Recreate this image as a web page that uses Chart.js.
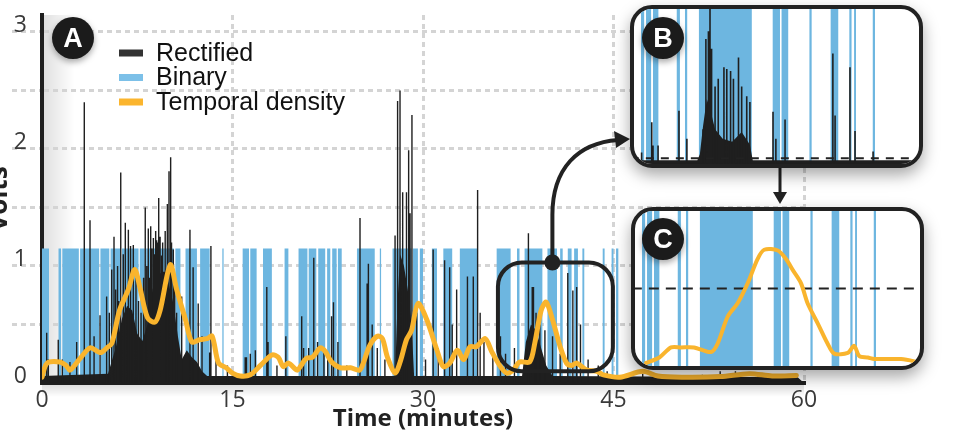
<!DOCTYPE html>
<html>
<head>
<meta charset="utf-8">
<script src="https://cdn.jsdelivr.net/npm/chart.js@4.4.1/dist/chart.umd.min.js"></script>
<style>
  body { margin: 0; background: #fff; }
  #wrap { position: relative; width: 956px; height: 434px; overflow: hidden; }
  #main { position: absolute; left: 0; top: 0; }
  .inset { position: absolute; border: 4px solid #222; border-radius: 22px; overflow: hidden;
           background: #fff; box-shadow: 0 7px 16px rgba(0,0,0,0.35); }
  .inset canvas { display: block; }
  .badge { position: absolute; width: 42px; height: 42px; border-radius: 50%; background: #1b1b1b;
           color: #fff; font: bold 27px "Liberation Sans", Arial, sans-serif; text-align: center;
           line-height: 43px; box-shadow: 0 3px 6px rgba(0,0,0,0.35); }
</style>
</head>
<body>
<div id="wrap">
  <canvas id="main" width="956" height="434"></canvas>
  <div class="inset" style="left:630px;top:5px;width:285px;height:155px"><canvas id="insetB" width="285" height="155"></canvas></div>
  <div class="inset" style="left:631px;top:207px;width:285px;height:155px"><canvas id="insetC" width="285" height="155"></canvas></div>
  <div class="badge" style="left:52px;top:17px">A</div>
  <div class="badge" style="left:642px;top:17px">B</div>
  <div class="badge" style="left:642px;top:218px">C</div>
</div>
<script>
// ---- main panel (A): time in minutes, volts ----
var xTicks = [0, 15, 30, 45, 60];
var yTicks = [0, 1, 2, 3];

var densityT = [0, 0.4, 1.4, 1.9, 2.2, 3.0, 3.8, 4.6, 5.1, 5.5,
  6.1, 6.8, 7.3, 7.7, 8.3, 8.9, 9.3, 10.1, 10.6, 11.3,
  11.8, 12.4, 13.0, 13.4, 13.9, 14.5, 15.0, 15.6, 16.4, 17.2,
  18.1, 18.6, 19.0, 19.4, 20.1, 20.4, 20.8, 21.3, 21.9, 22.3,
  22.8, 23.5, 24.3, 25.0, 25.3, 25.8, 26.4, 26.8, 27.2, 27.8,
  28.2, 28.7, 29.1, 29.6, 30.3, 31.1, 31.6, 32.1, 32.7, 33.2,
  33.7, 34.2, 34.9, 35.4, 36.1, 36.6, 37.1, 37.6, 38.4, 38.8,
  39.3, 39.7, 40.2, 40.8, 41.3, 41.7, 42.1, 42.9, 43.7, 44.2,
  45.5, 47.3, 48.5, 50.5, 53.4, 55.7, 57.5, 59.4];
var densityV = [0.05, 0.17, 0.18, 0.15, 0.11, 0.21, 0.30, 0.26, 0.30, 0.34,
  0.62, 0.80, 0.97, 0.82, 0.56, 0.52, 0.62, 1.01, 0.80, 0.54,
  0.35, 0.37, 0.38, 0.40, 0.17, 0.13, 0.085, 0.06, 0.07, 0.15,
  0.24, 0.22, 0.14, 0.17, 0.11, 0.15, 0.21, 0.22, 0.30, 0.27,
  0.18, 0.13, 0.13, 0.11, 0.17, 0.32, 0.40, 0.38, 0.22, 0.085,
  0.18, 0.37, 0.45, 0.68, 0.54, 0.28, 0.14, 0.17, 0.28, 0.20,
  0.31, 0.31, 0.38, 0.27, 0.14, 0.085, 0.11, 0.18, 0.18, 0.34,
  0.62, 0.69, 0.54, 0.31, 0.17, 0.15, 0.17, 0.11, 0.10, 0.07,
  0.05, 0.10, 0.06, 0.05, 0.055, 0.08, 0.06, 0.065];

// rectified spikes (time, peak volts)
var spikeT = [0.37, 0.5, 1.28, 1.6, 2.2, 2.73, 3.33, 3.78, 4.1, 4.57,
  5.09, 5.3, 5.49, 5.67, 5.8, 5.95, 6.05, 6.2, 6.4, 6.56,
  6.8, 6.93, 7.0, 7.19, 7.4, 7.6, 7.8, 8.0, 8.13, 8.25,
  8.37, 8.45, 8.56, 8.65, 8.77, 8.85, 8.95, 9.03, 9.1, 9.19,
  9.3, 9.42, 9.5, 9.6, 9.7, 9.87, 10.0, 10.13, 10.2, 10.34,
  10.45, 10.6, 11.0, 11.65, 11.9, 12.3, 12.6, 13.2, 13.3, 13.7,
  14.6, 16.0, 16.1, 16.4, 16.8, 17.7, 17.8, 18.5, 19.2, 20.45,
  20.6, 21.0, 21.4, 21.7, 22.2, 22.5, 22.8, 22.95, 23.3, 24.0,
  25.04, 25.6, 25.7, 26.0, 26.4, 27.0, 27.8, 28.0, 28.19, 28.4,
  28.7, 28.87, 28.98, 29.13, 29.5, 30.2, 30.8, 31.2, 31.7, 32.1,
  32.3, 32.65, 33.5, 33.96, 34.3, 34.5, 34.8, 35.5, 36.1, 36.5,
  37.2, 38.3, 38.6, 38.7, 38.9, 39.2, 39.6, 40.2, 40.8, 41.4,
  41.8, 42.1, 42.4, 43.0, 43.8, 44.5, 47.3, 50.0, 52.0, 53.4,
  54.6, 57.0];
var spikeV = [0.43, 0.2, 0.37, 0.2, 0.18, 0.35, 2.40, 1.39, 0.4, 0.58,
  0.74, 0.6, 0.97, 1.25, 0.8, 1.0, 0.7, 1.80, 1.1, 1.37,
  1.31, 1.17, 0.85, 1.18, 0.9, 0.7, 0.6, 0.9, 1.50, 1.0,
  1.32, 0.9, 1.34, 1.15, 1.24, 1.1, 1.3, 1.22, 1.2, 1.58,
  1.25, 1.09, 1.2, 0.95, 1.3, 1.53, 1.81, 1.93, 1.2, 1.14,
  0.9, 0.6, 0.74, 1.31, 0.99, 0.68, 0.4, 0.26, 1.17, 0.2,
  0.15, 0.22, 0.22, 0.25, 0.28, 0.82, 0.35, 0.15, 0.40, 0.57,
  0.3, 0.3, 1.07, 0.35, 0.28, 0.2, 0.57, 0.69, 0.35, 0.15,
  1.41, 0.85, 1.02, 0.5, 0.3, 0.2, 1.26, 2.41, 2.50, 1.63,
  1.63, 1.99, 1.45, 2.29, 0.6, 0.2, 1.14, 0.3, 1.05, 0.99,
  0.5, 0.8, 0.91, 0.91, 1.65, 0.6, 0.35, 0.25, 0.4, 0.25,
  0.3, 1.28, 0.82, 0.82, 0.6, 0.5, 0.45, 0.4, 0.25, 0.94,
  0.79, 0.82, 0.5, 0.2, 0.15, 0.1, 0.08, 0.06, 0.07, 0.1,
  0.1, 0.06];

// dense part of the rectified signal (envelope of the dark mass)
var massT = [0, 5.2, 5.8, 6.3, 6.7, 7.1, 7.5, 7.9, 8.3, 8.7,
  9.1, 9.5, 9.9, 10.3, 10.7, 11.0, 11.4, 11.8, 12.2, 12.6,
  13.0, 27.8, 28.0, 28.2, 28.5, 28.8, 29.1, 29.3, 37.8, 38.1,
  38.5, 38.9, 39.3, 39.7, 40.2, 59.5, 60];
var massV = [0.06, 0.08, 0.3, 0.55, 0.66, 0.62, 0.42, 0.36, 0.5, 0.8,
  0.92, 0.95, 0.88, 0.7, 0.4, 0.2, 0.28, 0.22, 0.18, 0.1,
  0.06, 0.06, 0.7, 1.1, 1.0, 0.8, 0.5, 0.06, 0.06, 0.35,
  0.5, 0.45, 0.3, 0.15, 0.06, 0.05, 0];

// binary "on" intervals (minutes)
var binaryStart = [0.0, 1.3, 1.6, 3.0, 4.6, 5.4, 6.3, 7.7, 8.2, 8.8,
  10.5, 11.3, 12.45, 14.2, 15.8, 16.4, 17.4, 19.1, 20.2, 21.0,
  21.75, 22.45, 22.85, 23.3, 24.8, 26.6, 27.6, 29.2, 29.75, 30.7,
  31.6, 32.9, 35.8, 37.4, 38.0, 39.8, 40.8, 41.4, 41.9, 42.55,
  44.15, 44.85, 45.2];
var binaryEnd = [0.55, 1.5, 2.9, 4.5, 5.3, 6.2, 7.6, 8.1, 8.7, 10.4,
  10.9, 12.2, 13.2, 14.3, 16.3, 16.9, 18.1, 19.4, 20.9, 21.6,
  22.3, 22.7, 23.2, 23.6, 26.2, 26.7, 29.1, 29.6, 30.0, 31.1,
  32.3, 34.3, 36.9, 37.6, 39.4, 40.55, 41.0, 41.7, 42.2, 42.7,
  44.3, 45.0, 45.4];
var binaryLevel = 1.15;

// highlighted window shown in the insets
var windowT = [35.9, 44.95];
var windowV = [0.1, 1.03];

// ---- insets B and C (zoom on the window) ----
var insetBinStart = [36.22, 36.38, 36.6, 37.35, 37.61, 38.05, 40.38, 40.66, 41.54, 42.21, 42.8, 42.95, 43.54];
var insetBinEnd   = [36.32, 36.54, 36.77, 37.45, 37.68, 39.72, 40.61, 40.87, 41.61, 42.45, 42.87, 43.01, 43.61];

var insetSpikeT = [36.24, 36.56, 36.6, 36.76, 37.42, 37.67, 38.18, 38.27, 38.35, 38.4,
  38.45, 38.56, 38.66, 38.84, 38.93, 39.05, 39.14, 39.3, 39.4, 39.56,
  39.66, 40.39, 40.48, 40.77, 42.28, 42.35, 42.82, 42.98, 43.55];
var insetSpikeV = [0.12, 0.43, 0.19, 0.19, 0.55, 0.26, 0.36, 1.29, 1.37, 1.6,
  1.19, 0.8, 0.88, 1.0, 0.98, 0.96, 0.88, 1.1, 0.8, 0.7,
  0.64, 0.54, 0.26, 0.46, 1.14, 0.5, 1.0, 0.34, 0.13];
var insetMassT = [36.0, 38.0, 38.08, 38.18, 38.3, 38.4, 38.56, 38.8, 39.1, 39.4, 39.66, 39.75, 45.0];
var insetMassV = [0.04, 0.04, 0.1, 0.39, 0.67, 0.57, 0.36, 0.26, 0.23, 0.33, 0.2, 0.04, 0.04];
var insetBThreshold = 0.06;

var insetDensT = [36.35, 36.77, 37.14, 37.45, 37.86, 38.4, 38.61, 38.93, 39.24, 39.56,
  39.87, 40.08, 40.51, 40.77, 40.98, 41.24, 41.45, 41.77, 42.08, 42.29,
  42.72, 42.92, 43.08, 43.35, 43.56, 44.4, 44.82, 44.93];
var insetDensV = [0.02, 0.055, 0.12, 0.12, 0.12, 0.09, 0.145, 0.32, 0.405, 0.535,
  0.69, 0.75, 0.745, 0.69, 0.62, 0.535, 0.405, 0.275, 0.145, 0.08,
  0.085, 0.13, 0.065, 0.055, 0.045, 0.045, 0.03, 0.02];
var insetCThreshold = 0.5;

var legendLabels = ['Rectified', 'Binary', 'Temporal density'];

var DARK = '#1f1f1f', BLUE = '#6db6e0', ORANGE = '#f9b42d', GRID = '#d4d4d4';
var legendColors = ['#333333', '#7cc0e8', '#fbb52e'];

function xy(ts, vs) {
  return ts.map(function(t, i) { return {x: t, y: vs[i]}; });
}
function spikes(ts, vs) {
  var pts = [];
  ts.forEach(function(t, i) { pts.push({x: t, y: 0}, {x: t, y: vs[i]}, {x: t, y: 0}); });
  return pts;
}
function steps(starts, ends, h) {
  var pts = [];
  starts.forEach(function(s, i) {
    pts.push({x: s, y: 0}, {x: s, y: h}, {x: ends[i], y: h}, {x: ends[i], y: 0});
  });
  return pts;
}

function roundRect(ctx, x, y, w, h, r) {
  ctx.beginPath();
  ctx.moveTo(x + r, y);
  ctx.arcTo(x + w, y, x + w, y + h, r);
  ctx.arcTo(x + w, y + h, x, y + h, r);
  ctx.arcTo(x, y + h, x, y, r);
  ctx.arcTo(x, y, x + w, y, r);
  ctx.closePath();
}

var shading = {
  id: 'shading',
  beforeDraw: function(chart) {
    var ctx = chart.ctx, a = chart.chartArea;
    ctx.save();
    var g = ctx.createLinearGradient(a.left, 0, a.left + 32, 0);
    g.addColorStop(0, 'rgba(0,0,0,0.13)');
    g.addColorStop(1, 'rgba(0,0,0,0)');
    ctx.fillStyle = g;
    ctx.fillRect(a.left, a.top, 32, a.bottom - a.top);
    var g2 = ctx.createLinearGradient(0, a.bottom, 0, a.bottom + 14);
    g2.addColorStop(0, 'rgba(0,0,0,0.14)');
    g2.addColorStop(1, 'rgba(0,0,0,0)');
    ctx.fillStyle = g2;
    ctx.fillRect(a.left, a.bottom, a.right - a.left, 14);
    ctx.restore();
  }
};

var decorations = {
  id: 'decorations',
  afterDraw: function(chart) {
    var ctx = chart.ctx, x = chart.scales.x, y = chart.scales.y;
    ctx.save();
    // legend
    ctx.font = '25px "Liberation Sans", Arial, sans-serif';
    ctx.textBaseline = 'middle';
    legendLabels.forEach(function(lab, i) {
      var ly = 53 + i * 24.5;
      ctx.fillStyle = legendColors[i];
      ctx.fillRect(119, ly - 3.5, 24, 7);
      ctx.fillStyle = '#111';
      ctx.fillText(lab, 156, ly + 1);
    });
    // highlight window
    var x0 = x.getPixelForValue(windowT[0]), x1 = x.getPixelForValue(windowT[1]);
    var y0 = y.getPixelForValue(windowV[1]), y1 = y.getPixelForValue(windowV[0]);
    ctx.strokeStyle = '#222';
    ctx.lineWidth = 4;
    roundRect(ctx, x0, y0, x1 - x0, y1 - y0, 24);
    ctx.stroke();
    var cx = (x0 + x1) / 2 - 3;
    // curved arrow to inset B
    ctx.beginPath();
    ctx.moveTo(cx, y0);
    ctx.lineTo(cx, 215);
    ctx.bezierCurveTo(cx, 168, 578, 143, 618, 140);
    ctx.stroke();
    ctx.fillStyle = '#222';
    ctx.beginPath();
    ctx.moveTo(630, 139);
    ctx.lineTo(614, 131);
    ctx.lineTo(616, 148);
    ctx.closePath();
    ctx.fill();
    ctx.beginPath();
    ctx.arc(cx, y0, 8, 0, Math.PI * 2);
    ctx.fill();
    // arrow from B down to C
    ctx.lineWidth = 3;
    ctx.beginPath();
    ctx.moveTo(780, 168);
    ctx.lineTo(780, 194);
    ctx.stroke();
    ctx.beginPath();
    ctx.moveTo(780, 204);
    ctx.lineTo(773, 192);
    ctx.lineTo(787, 192);
    ctx.closePath();
    ctx.fill();
    ctx.restore();
  }
};

var hideZero = function(c) { return c.tick && c.tick.value === 0 ? 'rgba(0,0,0,0)' : GRID; };

new Chart(document.getElementById('main').getContext('2d'), {
  type: 'line',
  data: {
    datasets: [{
      label: 'Temporal density',
      data: xy(densityT, densityV),
      borderColor: ORANGE,
      borderWidth: 5,
      borderCapStyle: 'round',
      borderJoinStyle: 'round',
      pointRadius: 0,
      tension: 0.3,
      fill: false
    }, {
      label: 'Rectified',
      data: spikes(spikeT, spikeV),
      borderColor: DARK,
      borderWidth: 1.4,
      borderJoinStyle: 'bevel',
      pointRadius: 0,
      tension: 0,
      fill: false
    }, {
      label: 'Rectified (dense)',
      data: xy(massT, massV),
      borderWidth: 0,
      backgroundColor: DARK,
      pointRadius: 0,
      tension: 0,
      fill: 'origin'
    }, {
      label: 'Binary',
      data: steps(binaryStart, binaryEnd, binaryLevel),
      borderWidth: 0,
      backgroundColor: BLUE,
      pointRadius: 0,
      tension: 0,
      fill: 'origin'
    }]
  },
  options: {
    responsive: false,
    animation: false,
    events: [],
    layout: { padding: { left: 0, right: 152, top: 15, bottom: 0 } },
    plugins: { legend: { display: false }, tooltip: { enabled: false } },
    scales: {
      x: {
        type: 'linear', min: 0, max: 60,
        afterFit: function(s) { s.height = 51; },
        ticks: { stepSize: 15, padding: 4, maxRotation: 0, color: '#3a3a3a',
                 font: { family: 'Open Sans', size: 23 } },
        grid: { color: hideZero, lineWidth: 3, drawTicks: false },
        border: { display: true, color: DARK, width: 4, dash: [5, 4] },
        title: { display: true, text: 'Time (minutes)', color: '#222', padding: { top: 0, bottom: 0 },
                 font: { family: 'Open Sans', size: 24, weight: 'bold' } }
      },
      y: {
        type: 'linear', min: 0, max: 3.145,
        afterFit: function(s) { s.width = 42; },
        ticks: { stepSize: 0.5, includeBounds: false, padding: -15, labelOffset: -7, color: '#3a3a3a',
                 font: { family: 'Open Sans', size: 23 },
                 callback: function(v) { return yTicks.indexOf(v) >= 0 ? String(v) : ''; } },
        grid: { color: hideZero, tickColor: hideZero, lineWidth: 3, tickWidth: 3, drawTicks: true,
                tickLength: 30, tickBorderDash: [5, 4] },
        border: { display: true, color: DARK, width: 4, dash: [5, 4] },
        title: { display: true, text: 'Volts', color: '#222', padding: { top: -16, bottom: 0 },
                 font: { family: 'Open Sans', size: 26, weight: 'bold' } }
      }
    }
  },
  plugins: [shading, decorations]
});

function insetOptions(ymax) {
  return {
    responsive: false,
    animation: false,
    events: [],
    layout: { padding: 0 },
    plugins: { legend: { display: false }, tooltip: { enabled: false } },
    scales: {
      x: { type: 'linear', min: windowT[0] + 0.1, max: windowT[1] + 0.05, display: false },
      y: { type: 'linear', min: 0, max: ymax, display: false }
    }
  };
}

var bMax = 1.6, cMax = 1.0;

new Chart(document.getElementById('insetB').getContext('2d'), {
  type: 'line',
  data: {
    datasets: [{
      label: 'Threshold',
      data: xy([windowT[0], windowT[1] + 1], [insetBThreshold, insetBThreshold]),
      borderColor: '#222', borderWidth: 2, borderDash: [8, 7], pointRadius: 0, fill: false
    }, {
      label: 'Rectified',
      data: spikes(insetSpikeT, insetSpikeV),
      borderColor: DARK, borderWidth: 1.6, borderJoinStyle: 'bevel', pointRadius: 0, tension: 0, fill: false
    }, {
      label: 'Rectified (dense)',
      data: xy(insetMassT, insetMassV),
      borderWidth: 0, backgroundColor: DARK, pointRadius: 0, tension: 0, fill: 'origin'
    }, {
      label: 'Binary',
      data: steps(insetBinStart, insetBinEnd, bMax),
      borderWidth: 0, backgroundColor: BLUE, pointRadius: 0, tension: 0, fill: 'origin'
    }]
  },
  options: insetOptions(bMax)
});

new Chart(document.getElementById('insetC').getContext('2d'), {
  type: 'line',
  data: {
    datasets: [{
      label: 'Temporal density',
      data: xy(insetDensT, insetDensV),
      borderColor: ORANGE, borderWidth: 4, borderCapStyle: 'round', borderJoinStyle: 'round',
      pointRadius: 0, tension: 0.3, fill: false
    }, {
      label: 'Threshold',
      data: xy([windowT[0], windowT[1] + 1], [insetCThreshold, insetCThreshold]),
      borderColor: '#222', borderWidth: 2, borderDash: [10, 7], pointRadius: 0, fill: false
    }, {
      label: 'Binary',
      data: steps(insetBinStart, insetBinEnd, cMax),
      borderWidth: 0, backgroundColor: BLUE, pointRadius: 0, tension: 0, fill: 'origin'
    }]
  },
  options: insetOptions(cMax)
});
</script>
</body>
</html>
